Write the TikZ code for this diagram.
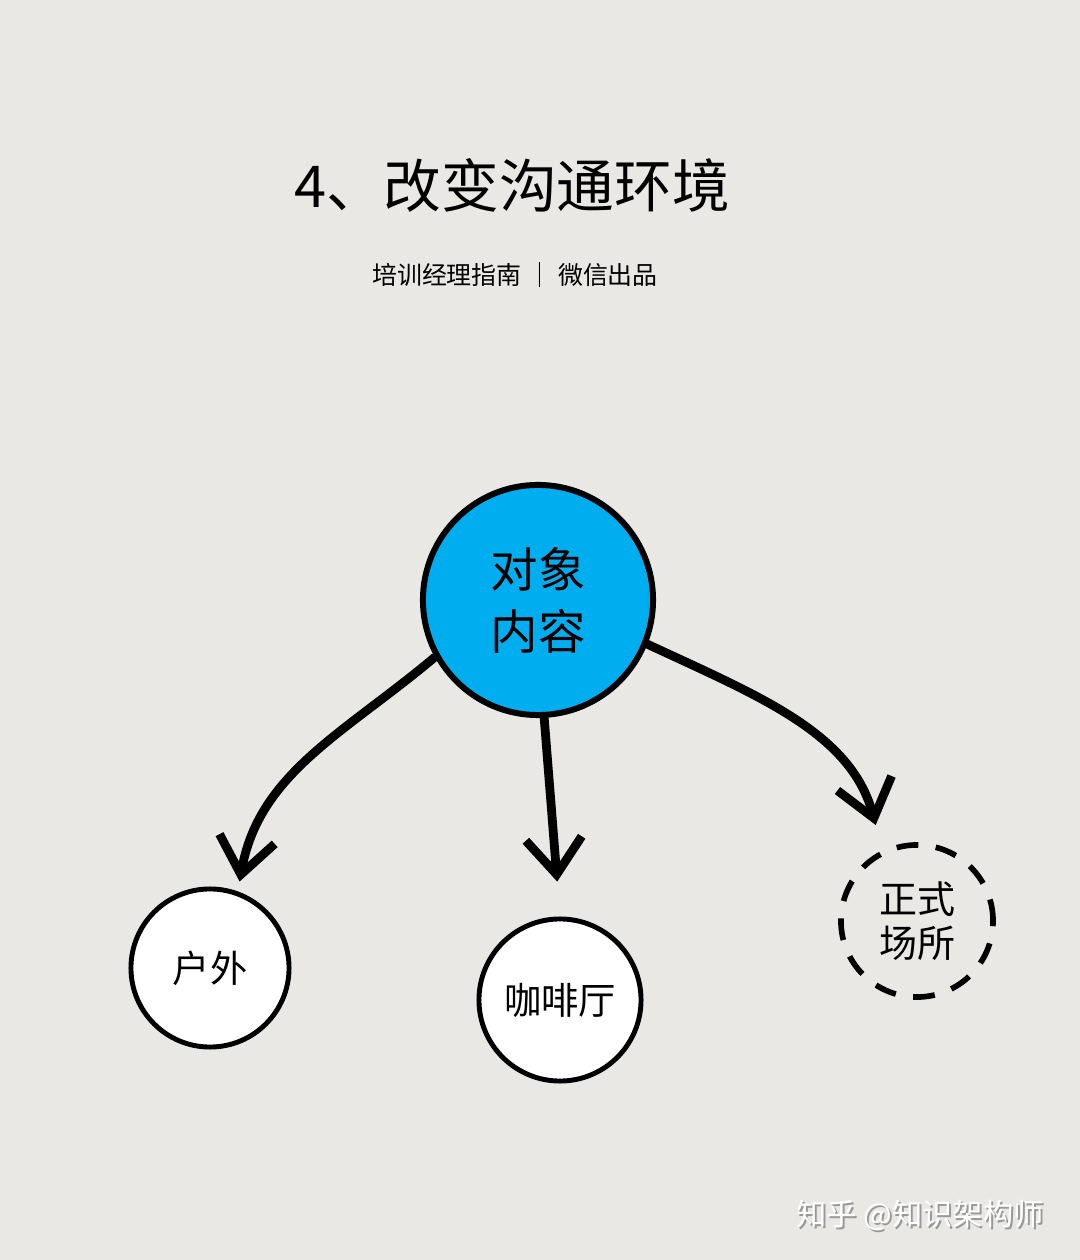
\documentclass[tikz,border=0pt]{standalone}
\usepackage{fontspec}
\setmainfont{Noto Sans CJK SC}
\usetikzlibrary{arrows.meta}
\definecolor{fundo}{HTML}{E9E8E5}
\definecolor{azul}{HTML}{00AEEF}

\begin{document}
\begin{tikzpicture}[x=0.01cm, y=0.01cm,
    bola/.style={circle, draw, line width=1.4pt, fill=white, inner sep=0pt, align=center,
      font=\fontsize{10.6}{12.2}\selectfont},
    seta/.style={line width=2.5pt, line cap=round, line join=round,
      -{Straight Barb[length=0.36cm, width=0.56cm]}}]
      % fundo
      \fill[fundo] (0,0) rectangle (1080,1260);
      % titulo
      \node (titulo) at (512,1075) {\fontsize{16.4}{20}\selectfont 4、改变沟通环境};
      \node (sub) at (515,985) {\fontsize{7.1}{9}\selectfont 培训经理指南 ｜ 微信出品};
      % circulos
      \node[bola, fill=azul, minimum size=2.3cm, line width=1.7pt,
        font=\fontsize{13.5}{17.6}\selectfont] (obj) at (538,660) {对象\\内容};
      \node[bola, minimum size=1.58cm] (fora) at (210,292) {户外};
      \node[bola, minimum size=1.62cm] (cafe) at (560,260) {咖啡厅};
      \node[bola, minimum size=1.52cm, fill=none, line width=1.6pt,
        dash pattern=on 6.2pt off 5pt, font=\fontsize{10.8}{12.6}\selectfont] (formal) at (917,339) {正式\\场所};

      % setas
      \draw[seta, shorten >=0.1cm] (obj.209) to[out=220, in=80] (fora.70);
      \draw[seta, shorten >=0.35cm] (obj.273) -- (cafe.90);
      \draw[seta, shorten >=0.26cm] (obj.338) to[out=-25, in=105] (formal.116);

      % marca
      \node[text=black!40, font=\fontsize{8.6}{10}\selectfont] (sombra) at (922,43) {知乎 @知识架构师};
      \node[text=white, font=\fontsize{8.6}{10}\selectfont] (marca) at (920,45) {知乎 @知识架构师};
\end{tikzpicture}
\end{document}
